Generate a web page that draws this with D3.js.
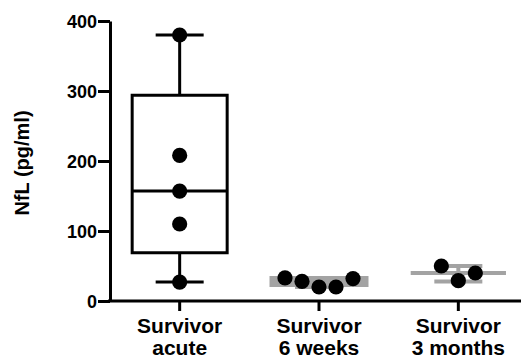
<!DOCTYPE html>
<html lang="en">
<head>
    <meta charset="UTF-8">
    <title>NfL box plot</title>
    <script src="https://cdn.jsdelivr.net/npm/d3@7/dist/d3.min.js"></script>
    <style>
        body { margin: 0; background: #fff; }
        text { font-family: "Liberation Sans", Arial, sans-serif; font-weight: bold; fill: #000; }
    </style>
</head>
<body>
    <svg id="main" width="521" height="360"></svg>
    <script>
        // data
        let groups = ['acute', '6 weeks', '3 months'];
        let pointsAcute = [380, 208, 157, 110, 27];
        let points6w = [33, 28, 20, 20, 32];
        let points3m = [50, 29, 40];
        // box stats per group: min, q1, median, q3, max
        let boxMin = [27, 20, 28];
        let boxQ1 = [69, 23, 40];
        let boxMedian = [157, 28, 40];
        let boxQ3 = [294, 33, 40];
        let boxMax = [380, 33, 50];
        let yTicks = [0, 100, 200, 300, 400];
        let groupColors = ['#000', '#a3a3a3', '#a3a3a3'];

        let allPoints = [pointsAcute, points6w, points3m];

        let svg = d3.select('svg#main');

        let xScale = d3.scaleBand().domain(groups).range([110, 528]);
        let yScale = d3.scaleLinear().domain([0, 400]).range([301, 21]);
        let cx = function(g){ return xScale(g) + xScale.bandwidth() / 2; };

        let boxW = 95, capW = 48, r = 7.6, dotStep = 17;

        // boxes and whiskers
        groups.forEach(function(g, i){
            let c = cx(g);
            let grp = svg.append('g')
                .attr('stroke', groupColors[i])
                .attr('stroke-width', i == 0 ? 3 : 4)
                .attr('fill', 'none');
            let y0 = yScale(boxQ1[i]), y1 = yScale(boxQ3[i]);
            grp.append('path')
                .attr('d', 'M' + (c - boxW/2) + ',' + y0 + 'H' + (c + boxW/2) + 'V' + y1 + 'H' + (c - boxW/2) + 'Z');
            grp.append('line')
                .attr('x1', c - boxW/2).attr('x2', c + boxW/2)
                .attr('y1', yScale(boxMedian[i])).attr('y2', yScale(boxMedian[i]));
            // whisker stems
            grp.append('line').attr('x1', c).attr('x2', c)
                .attr('y1', y1).attr('y2', yScale(boxMax[i]));
            grp.append('line').attr('x1', c).attr('x2', c)
                .attr('y1', y0).attr('y2', yScale(boxMin[i]));
            // caps
            [boxMax[i], boxMin[i]].forEach(function(v){
                grp.append('line')
                    .attr('x1', c - capW/2).attr('x2', c + capW/2)
                    .attr('y1', yScale(v)).attr('y2', yScale(v));
            });
        });

        // dots: spread in a row when any of them collide
        groups.forEach(function(g, i){
            let pts = allPoints[i];
            let collide = false;
            pts.forEach(function(a, j){
                pts.forEach(function(b, k){
                    if (j != k && Math.abs(yScale(a) - yScale(b)) < 2 * r) collide = true;
                });
            });
            svg.append('g').selectAll('circle')
                .data(pts)
                .enter()
                .append('circle')
                .attr('cx', function(d, j){
                    return cx(g) + (collide ? (j - (pts.length - 1) / 2) * dotStep : 0);
                })
                .attr('cy', function(d){ return yScale(d); })
                .attr('r', r)
                .attr('fill', '#000');
        });

        // y axis
        let yAxis = svg.append('g')
            .attr('transform', 'translate(110,0)')
            .call(d3.axisLeft(yScale).tickValues(yTicks).tickSize(12).tickSizeOuter(0).tickPadding(1));
        yAxis.selectAll('path, line').attr('stroke', '#000').attr('stroke-width', 3);
        yAxis.selectAll('text')
            .style('font-size', '18px')
            .attr('dy', '0.36em');

        // x axis
        let xAxis = svg.append('g')
            .attr('transform', 'translate(0,301)')
            .call(d3.axisBottom(xScale).tickSize(10).tickSizeOuter(0).tickFormat(''));
        xAxis.selectAll('path, line').attr('stroke', '#000').attr('stroke-width', 3);
        xAxis.select('path.domain').attr('d', 'M108,0H528');

        groups.forEach(function(g){
            let t = svg.append('text')
                .attr('text-anchor', 'middle')
                .style('font-size', '21px');
            t.append('tspan').attr('x', cx(g)).attr('y', 333).text('Survivor');
            t.append('tspan').attr('x', cx(g)).attr('y', 355).text(g);
        });

        // y label
        svg.append('text')
            .attr('transform', 'rotate(-90)')
            .attr('x', -163)
            .attr('y', 29)
            .attr('text-anchor', 'middle')
            .style('font-size', '20px')
            .text('NfL (pg/ml)');
    </script>
</body>
</html>
